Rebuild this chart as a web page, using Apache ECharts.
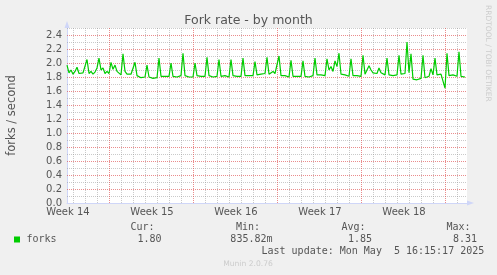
<!DOCTYPE html>
<html>
<head>
<meta charset="utf-8">
<script src="https://cdn.jsdelivr.net/npm/echarts@6/dist/echarts.min.js"></script>
<style>
html,body{margin:0;padding:0;background:#F0F0F0;}
#chart{width:497px;height:275px;}
</style>
</head>
<body>
<div id="chart"></div>
<script>
// ---- data ----
const titleText = 'Fork rate - by month';
const yAxisName = 'forks / second';
const weekLabels = ['Week 14', 'Week 15', 'Week 16', 'Week 17', 'Week 18'];
const seriesName = 'forks';
// forks per second, one sample every 4 hours (left to right)
const forks = [
  1.97,1.86,1.90,1.84,1.88,1.94, 1.85,1.84,1.86,1.84,2.05,1.85,
  1.88,1.84,1.87,1.93,2.07,1.90, 1.93,1.85,1.88,1.85,2.01,1.91,
  1.97,1.88,1.86,1.83,2.13,1.88, 1.84,1.83,1.84,1.82,2.01,1.82,
  1.81,1.79,1.81,1.80,1.97,1.80, 1.79,1.78,1.80,1.79,2.07,1.81,
  1.80,1.81,1.80,1.81,2.00,1.81, 1.83,1.80,1.81,1.82,2.14,1.82,
  1.81,1.80,1.78,1.80,2.00,1.82, 1.81,1.81,1.80,1.81,2.08,1.82,
  1.81,1.80,1.82,1.81,2.05,1.81, 1.80,1.82,1.81,1.80,2.05,1.82,
  1.83,1.81,1.82,1.81,2.07,1.82, 1.81,1.82,1.81,1.82,2.02,1.83,
  1.82,1.84,1.83,1.85,2.08,1.84, 1.86,1.88,1.85,1.86,2.10,1.82,
  1.81,1.82,1.81,1.80,2.04,1.81, 1.82,1.81,1.80,1.81,2.03,1.81,
  1.82,1.80,1.81,1.82,2.07,1.83, 1.81,1.83,1.81,1.82,2.06,1.90,
  1.95,1.88,2.03,1.95,2.14,1.84, 1.82,1.83,1.82,1.81,2.06,1.82,
  1.81,1.82,1.80,1.81,2.11,1.84, 1.86,1.96,1.90,1.86,1.88,1.85,
  1.93,1.86,1.84,1.83,2.07,1.83, 1.84,1.82,1.84,1.83,2.11,1.84,
  1.82,1.85,2.30,1.86,2.13,1.77, 1.75,1.76,1.77,1.78,2.11,1.79,
  1.80,1.81,1.92,1.83,2.07,1.83, 1.82,1.84,1.82,1.64,2.14,1.82,
  1.81,1.83,1.82,1.81,2.16,1.81, 1.80,1.80
];
const yMajorGrid = [0.2, 0.4, 0.6, 0.8, 1.0, 1.2, 1.4, 1.6, 1.8, 2.0, 2.2, 2.4];
const yMinorGrid = [0.1, 0.3, 0.5, 0.7, 0.9, 1.1, 1.3, 1.5, 1.7, 1.9, 2.1, 2.3, 2.5];
const legendHeaders = ['Cur:', 'Min:', 'Avg:', 'Max:'];
const legendValues = ['1.80', '835.82m', '1.85', '8.31'];
const lastUpdate = 'Last update: Mon May  5 16:15:17 2025';
const watermark = 'RRDTOOL / TOBI OETIKER';
const footer = 'Munin 2.0.76';

// ---- time frame (hours from the left edge of the plot) ----
const STEP_H = 4;          // sample spacing
const SPAN_H = 800;        // visible span
const WEEK_H = 168;
const DAY_H = 24;
const FIRST_MIDNIGHT_H = 12.6;
const FIRST_WEEK_START_H = 84.6;

const points = forks.map((v, i) => [i * STEP_H, v]);

const dayLines = [];
for (let h = FIRST_MIDNIGHT_H; h < SPAN_H; h += DAY_H) dayLines.push(h);
const weekLines = [];
for (let h = FIRST_WEEK_START_H; h < SPAN_H; h += WEEK_H) weekLines.push(h);
const minorDays = dayLines.filter(h => !weekLines.some(w => Math.abs(w - h) < 0.01));

const GRID_C = 'rgba(150,150,150,0.5)';
const MGRID_C = 'rgba(222,79,79,0.65)';
const AXIS_C = '#CFD6F8';
const FONT_C = '#555555';
const SANS = 'DejaVu Sans';
const MONO = 'DejaVu Sans Mono';

function vGrid(color) {
  return function (params, api) {
    const cs = params.coordSys;
    const x = Math.floor(api.coord([api.value(0), 0])[0]) + 0.5;
    return {
      type: 'line',
      shape: { x1: x, y1: cs.y, x2: x, y2: cs.y + cs.height },
      style: { stroke: color, lineWidth: 1, lineDash: [1, 1] },
      silent: true
    };
  };
}
function hGrid(color) {
  return function (params, api) {
    const cs = params.coordSys;
    const y = Math.floor(api.coord([0, api.value(1)])[1]) + 0.5;
    return {
      type: 'line',
      shape: { x1: cs.x, y1: y, x2: cs.x + cs.width, y2: y },
      style: { stroke: color, lineWidth: 1, lineDash: [1, 1] },
      silent: true
    };
  };
}

const headerRight = [154.5, 260, 365.5, 470.5];
const valueRight = [161.5, 272.5, 372, 477];

const graphic = [];
legendHeaders.forEach((t, i) => graphic.push({
  type: 'text', x: headerRight[i], y: 227.5,
  style: { text: t, fill: FONT_C, font: '10px "' + MONO + '"', align: 'right', verticalAlign: 'middle' }
}));
legendValues.forEach((t, i) => graphic.push({
  type: 'text', x: valueRight[i], y: 239.5,
  style: { text: t, fill: FONT_C, font: '10px "' + MONO + '"', align: 'right', verticalAlign: 'middle' }
}));
graphic.push({ type: 'rect', shape: { x: 14, y: 236.5, width: 6, height: 6 }, style: { fill: '#00CC00' } });
graphic.push({ type: 'text', x: 26.5, y: 239.5,
  style: { text: seriesName, fill: FONT_C, font: '10px "' + MONO + '"', align: 'left', verticalAlign: 'middle' } });
graphic.push({ type: 'text', x: 261.5, y: 251.5,
  style: { text: lastUpdate, fill: FONT_C, font: '10px "' + MONO + '"', align: 'left', verticalAlign: 'middle' } });
graphic.push({ type: 'text', x: 248, y: 264.5,
  style: { text: footer, fill: '#cccccc', font: '7.6px "' + SANS + '"', align: 'center', verticalAlign: 'middle' } });
graphic.push({ type: 'text', x: 487.5, y: 5, rotation: -Math.PI / 2,
  style: { text: watermark, fill: '#cccccc', font: '7.5px "' + SANS + '"', align: 'left', verticalAlign: 'middle' } });

const chart = echarts.init(document.getElementById('chart'), null, { renderer: 'canvas' });
chart.setOption({
  animation: false,
  backgroundColor: '#F0F0F0',
  textStyle: { fontFamily: SANS },
  title: {
    text: titleText, left: 'center', top: 9,
    textStyle: { fontFamily: SANS, fontSize: 12.5, fontWeight: 'normal', color: FONT_C }
  },
  grid: {
    left: 67, top: 28, width: 400, height: 175, show: true, backgroundColor: '#FFFFFF', borderWidth: 0,
    containLabel: false, outerBoundsMode: 'none'
  },
  xAxis: {
    type: 'value', min: 0, max: SPAN_H, interval: WEEK_H,
    axisLine: { show: true, lineStyle: { color: AXIS_C, width: 1 }, symbol: ['none', 'triangle'], symbolSize: [5, 7], symbolOffset: [0, 3.5] },
    axisTick: { show: false },
    splitLine: { show: false },
    axisLabel: {
      show: true, margin: 4, color: FONT_C, fontFamily: SANS, fontSize: 10, padding: [0, 0, 0, 2],
      showMaxLabel: false,
      formatter: v => { const k = Math.round(v / WEEK_H); return (Math.abs(v - k * WEEK_H) < 1e-6 && weekLabels[k]) ? weekLabels[k] : ''; }
    }
  },
  yAxis: {
    type: 'value', min: 0, max: 2.5, interval: 0.2,
    name: yAxisName, nameLocation: 'middle', nameRotate: 90, nameGap: 49,
    nameTextStyle: { color: FONT_C, fontFamily: SANS, fontSize: 11.5 },
    axisLine: { show: true, lineStyle: { color: AXIS_C, width: 1 }, symbol: ['none', 'triangle'], symbolSize: [5, 7], symbolOffset: [0, 3.5] },
    axisTick: { show: false },
    splitLine: { show: false },
    axisLabel: {
      margin: 5, color: FONT_C, fontFamily: SANS, fontSize: 10, showMaxLabel: false,
      formatter: v => (Math.round(v * 10) / 10).toFixed(1)
    }
  },
  series: [
    { type: 'custom', data: minorDays.map(h => [h, 0]), renderItem: vGrid(GRID_C), z: 1, silent: true, encode: { x: 0, y: 1 } },
    { type: 'custom', data: yMinorGrid.map(v => [0, v]), renderItem: hGrid(GRID_C), z: 1, silent: true, encode: { x: 0, y: 1 } },
    { type: 'custom', data: weekLines.map(h => [h, 0]), renderItem: vGrid(MGRID_C), z: 2, silent: true, encode: { x: 0, y: 1 } },
    { type: 'custom', data: yMajorGrid.map(v => [0, v]), renderItem: hGrid(MGRID_C), z: 2, silent: true, encode: { x: 0, y: 1 } },
    {
      name: seriesName, type: 'line', data: points, z: 3, showSymbol: false, symbol: 'none',
      lineStyle: { color: '#00CC00', width: 1.2 }, itemStyle: { color: '#00CC00' }
    }
  ],
  graphic: graphic
});
</script>
</body>
</html>
